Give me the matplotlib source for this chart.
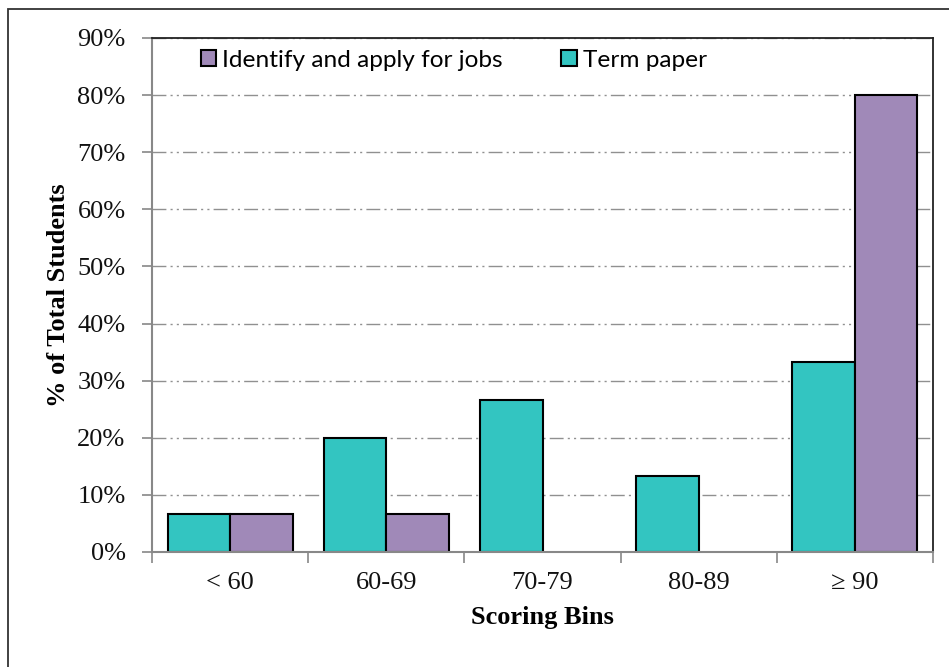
import matplotlib
matplotlib.use("Agg")
import matplotlib.pyplot as plt
import numpy as np
from matplotlib.patches import Rectangle
from matplotlib.ticker import FixedLocator, PercentFormatter

categories = ["< 60", "60-69", "70-79", "80-89", "\u2265 90"]
term_paper = [6.67, 20.0, 26.67, 13.33, 33.33]
identify_jobs = [6.67, 6.67, 0.0, 0.0, 80.0]
yticks = [0, 10, 20, 30, 40, 50, 60, 70, 80, 90]

teal = "#33C5C1"
purple = "#A089B8"

fig = plt.figure(figsize=(9.49, 6.67), dpi=100)
ax = fig.add_axes([152/949, 115/667, (933-152)/949, (552-38)/667])

x = np.arange(len(categories))
w = 0.4
lw_t = [1.5 if v > 0 else 0 for v in term_paper]
lw_i = [1.5 if v > 0 else 0 for v in identify_jobs]
ax.bar(x - w/2, term_paper, width=w, color=teal, edgecolor="black", linewidth=lw_t,
       label="Term paper", zorder=3)
ax.bar(x + w/2, identify_jobs, width=w, color=purple, edgecolor="black", linewidth=lw_i,
       label="Identify and apply for jobs", zorder=3)

ax.set_xlim(-0.5, len(categories) - 0.5)
ax.set_ylim(0, 90)
ax.set_yticks(yticks)
ax.yaxis.set_major_formatter(PercentFormatter(decimals=0))
ax.set_xticks(x)
ax.set_xticklabels(categories)
ax.xaxis.set_minor_locator(FixedLocator(np.arange(-0.5, len(categories), 1.0)))
ax.tick_params(axis="x", which="major", length=0, pad=14.5)
ax.tick_params(axis="x", which="minor", length=8, width=1.2, color="#888888", direction="out")
ax.tick_params(axis="y", length=7, width=1.2, color="#888888", direction="out", pad=12)

for lab in ax.get_xticklabels() + ax.get_yticklabels():
    lab.set_fontfamily("Liberation Serif")
    lab.set_fontsize(19)
    lab.set_color("#111111")

for v in yticks[1:]:
    ax.axhline(v, color="#909090", linewidth=1.0, dashes=(10, 3, 1.5, 3, 1.5, 3), zorder=1)

ax.spines["left"].set_color("#888888")
ax.spines["bottom"].set_color("#888888")
ax.spines["left"].set_linewidth(1.5)
ax.spines["bottom"].set_linewidth(1.5)
ax.spines["top"].set_color("#222222")
ax.spines["right"].set_color("#222222")
ax.spines["top"].set_linewidth(1.3)
ax.spines["right"].set_linewidth(1.3)
ax.spines["bottom"].set_zorder(4)

ax.set_xlabel("Scoring Bins", fontfamily="Liberation Serif", fontsize=19, fontweight="bold")
ax.set_ylabel("% of Total Students", fontfamily="Liberation Serif", fontsize=19,
              fontweight="bold")
ax.xaxis.set_label_coords(0.5, -0.105)
ax.yaxis.set_label_coords(-0.105, 0.5)

handles, labels = ax.get_legend_handles_labels()
leg = ax.legend([handles[1], handles[0]], [labels[1], labels[0]], loc="center left",
                bbox_to_anchor=(0.05, 0.957), ncol=2, frameon=False,
                prop={"family": "Lato", "size": 17.6}, handlelength=0.62, handleheight=0.62,
                handletextpad=0.25, columnspacing=2.4, borderaxespad=0)

fig.patches.append(Rectangle((8/949, -0.1), 1.2, (667-9)/667 + 0.1, transform=fig.transFigure,
                             fill=False, edgecolor="#333333", linewidth=1.3))

fig.savefig("out.png", dpi=100)
